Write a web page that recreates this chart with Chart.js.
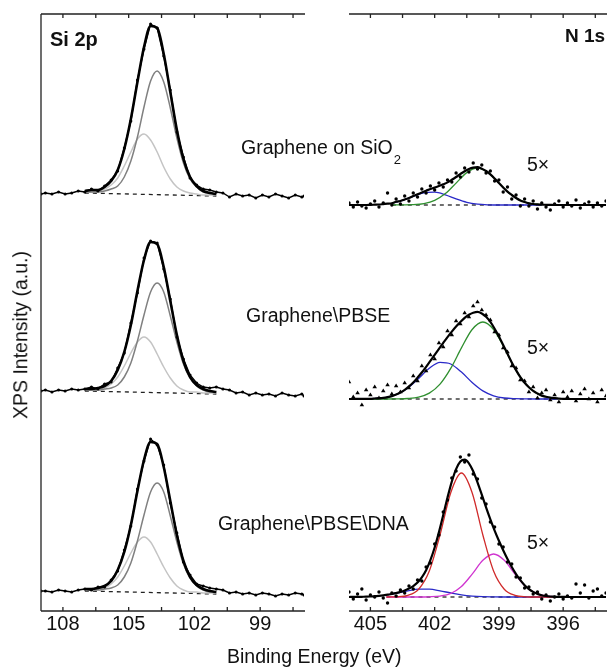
<!DOCTYPE html>
<html>
<head>
<meta charset="utf-8">
<script src="https://cdn.jsdelivr.net/npm/chart.js@4.4.1/dist/chart.umd.min.js"></script>
<style>
  body { margin: 0; background: #fff; }
  #wrap { position: relative; width: 610px; height: 668px; overflow: hidden; background: #fff;
          font-family: "Liberation Sans", Arial, sans-serif; color: #111; }
  #wrap canvas { position: absolute; top: 0; }
  .lbl { position: absolute; white-space: nowrap; line-height: 1; font-size: 19.5px; }
  .bold { font-weight: bold; }
</style>
</head>
<body>
<div id="wrap">
  <canvas id="siChart" width="320" height="668" style="left:0"></canvas>
  <canvas id="nChart" width="280" height="668" style="left:330px"></canvas>

  <div class="lbl bold" style="left:50px; top:29px; font-size:20px;">Si 2p</div>
  <div class="lbl bold" style="left:565px; top:25.5px; font-size:19px;">N 1s</div>
  <div class="lbl" style="left:241px; top:137.5px;">Graphene on SiO<span style="font-size:13px; position:relative; top:10px; margin-left:1px;">2</span></div>
  <div class="lbl" style="left:246px; top:305.5px;">Graphene\PBSE</div>
  <div class="lbl" style="left:218px; top:513.5px;">Graphene\PBSE\DNA</div>
  <div class="lbl" style="left:527px; top:154.5px;">5×</div>
  <div class="lbl" style="left:527px; top:337.5px;">5×</div>
  <div class="lbl" style="left:527px; top:532.5px;">5×</div>
  <div class="lbl" style="left:227px; top:646.5px;">Binding Energy (eV)</div>
  <div class="lbl" style="left:20.5px; top:335px; transform:translate(-50%,-50%) rotate(-90deg);">XPS Intensity (a.u.)</div>
</div>

<script>
// ---- Si 2p panel (binding energy, eV / intensity, a.u.) ----
const siTicks = [108, 106.5, 105, 103.5, 102, 100.5, 99, 97.5];
const siLabels = [108, 105, 102, 99];

const siDataE = [109, 108.8, 108.5, 108.2, 107.9, 107.6, 107.3, 107, 106.7, 106.4,
  106.1, 105.8, 105.5, 105.2, 104.9, 104.6, 104.3, 104, 103.7, 103.4,
  103.1, 102.8, 102.5, 102.2, 101.9, 101.6, 101.3, 101, 100.7, 100.4,
  100.1, 99.8, 99.5, 99.2, 98.9, 98.6, 98.3, 98, 97.7, 97.4, 97.1, 97];
const siTopData = [417, 418, 417, 419, 417, 418, 420, 419, 422, 420,
  425, 431, 440, 463, 490, 531, 562, 587, 583, 555,
  521, 479, 454, 433, 426, 422, 421, 419, 418, 414,
  417, 415, 416, 413, 416, 414, 417, 415, 413, 416, 414, 415];
const siMidData = [220, 221, 219, 221, 220, 222, 221, 222, 224, 222,
  227, 229, 243, 258, 288, 318, 353, 370, 368, 342,
  312, 274, 252, 236, 228, 224, 223, 224, 222, 221,
  218, 219, 216, 218, 216, 217, 215, 218, 216, 215, 217, 215];
const siBotData = [20, 20, 19, 21, 20, 19, 21, 22, 21, 24,
  24, 31, 40, 61, 85, 122, 150, 172, 166, 146,
  108, 78, 49, 36, 27, 25, 23, 22, 21, 18,
  19, 17, 18, 16, 18, 17, 15, 17, 16, 18, 17, 16];

const siFitE = [107, 106.7, 106.4, 106.1, 105.8, 105.5, 105.2, 104.9, 104.6, 104.3,
  104, 103.7, 103.4, 103.1, 102.8, 102.5, 102.2, 101.9, 101.6, 101.3, 101];
const siTopFit = [420, 421, 421, 424, 430, 441, 462, 492, 529, 564, 585, 583, 557, 519, 481, 452, 434, 425, 420, 418, 417];
const siTopComp1 = [419, 419, 419, 420, 422, 425, 434, 450, 474, 504, 530, 540, 529, 503, 473, 448, 432, 424, 419, 418, 417];
const siTopComp2 = [419, 419, 420, 422, 426, 433, 445, 459, 472, 477, 471, 459, 444, 432, 424, 420, 418, 417, 416, 416, 416];
const siMidFit = [222, 222, 223, 225, 230, 241, 259, 286, 320, 351, 369, 367, 344, 310, 276, 250, 234, 226, 222, 220, 219];
const siMidComp1 = [221, 221, 221, 222, 223, 226, 234, 248, 270, 296, 319, 328, 319, 295, 269, 247, 233, 225, 221, 219, 219];
const siMidComp2 = [221, 221, 222, 223, 227, 234, 245, 258, 269, 274, 269, 257, 244, 233, 225, 221, 219, 219, 218, 218, 218];
const siBotFit = [22, 22, 23, 25, 30, 41, 59, 86, 120, 151, 169, 167, 144, 110, 76, 50, 34, 26, 22, 20, 19];
const siBotComp1 = [21, 21, 21, 22, 23, 26, 34, 48, 70, 96, 119, 128, 119, 95, 69, 47, 33, 25, 21, 19, 19];
const siBotComp2 = [21, 21, 22, 23, 27, 34, 45, 58, 69, 74, 69, 57, 44, 33, 25, 21, 19, 19, 18, 18, 18];

const siBaseE = [107, 101];
const siTopBase = [418, 415];
const siMidBase = [220, 217];
const siBotBase = [20, 17];

// ---- N 1s panel ----
const nTicks = [405, 403.5, 402, 400.5, 399, 397.5, 396, 394.5];
const nLabels = [405, 402, 399, 396];

const nE = [406, 405.8, 405.6, 405.4, 405.2, 405, 404.8, 404.6, 404.4, 404.2,
  404, 403.8, 403.6, 403.4, 403.2, 403, 402.8, 402.6, 402.4, 402.2,
  402, 401.8, 401.6, 401.4, 401.2, 401, 400.8, 400.6, 400.4, 400.2,
  400, 399.8, 399.6, 399.4, 399.2, 399, 398.8, 398.6, 398.4, 398.2,
  398, 397.8, 397.6, 397.4, 397.2, 397, 396.8, 396.6, 396.4, 396.2,
  396, 395.8, 395.6, 395.4, 395.2, 395, 394.8, 394.6, 394.4, 394.2, 394];

const nTopData = [408, 404, 409, 405, 403, 407, 410, 404, 408, 418,
  406, 412, 407, 415, 410, 418, 414, 422, 418, 425,
  421, 428, 424, 431, 429, 438, 434, 443, 439, 448,
  442, 446, 438, 440, 430, 431, 419, 424, 412, 416,
  405, 412, 405, 410, 402, 408, 404, 401, 407, 410,
  404, 408, 405, 411, 403, 407, 409, 404, 408, 405, 410];
const nTopFit = [406, 406, 406, 406, 406, 406.1, 406.3, 406.5, 406.9, 407.3,
  407.8, 409.2, 410, 411.5, 413, 414.9, 416.8, 418.6, 420.3, 422,
  423.4, 425, 426.7, 428.6, 431.2, 434, 437, 439.8, 442, 443.4,
  443.9, 442.3, 440, 436.7, 432.5, 427.9, 423.5, 419.3, 416, 413,
  410.6, 409, 407.8, 407, 406.6, 406.3, 406.2, 406.1, 406, 406,
  406, 406, 406, 406, 406, 406, 406, 406, 406, 406, 406];

const nMidData = [229, 214, 218, 206, 221, 216, 224, 213, 220, 226,
  217, 225, 219, 228, 223, 235, 230, 245, 240, 256,
  252, 268, 264, 280, 276, 290, 287, 298, 294, 305,
  309, 301, 296, 291, 279, 276, 263, 259, 245, 243,
  231, 230, 219, 224, 213, 218, 221, 211, 216, 209,
  219, 214, 220, 210, 217, 222, 212, 218, 209, 221, 215];
const nMidFit = [212, 212, 212.1, 212.1, 212.2, 212.2, 212.5, 212.8, 213.2, 213.9,
  214.9, 216.5, 218.5, 221.2, 224.6, 228.5, 233.4, 238.5, 244.2, 250.2,
  256.2, 262.2, 268.1, 273.9, 279.4, 284.5, 289, 293.1, 296.2, 298.2,
  299.1, 297.5, 294.2, 289.1, 282.3, 274.6, 266.1, 257.2, 248.6, 240.9,
  233.8, 228.3, 223.8, 220.1, 217.5, 215.4, 214.2, 213.3, 212.8, 212.4,
  212.2, 212, 212, 212, 212, 212, 212, 212, 212, 212, 212];

const nBotData = [19, 12, 17, 22, 11, 16, 14, 19, 13, 8,
  18, 15, 21, 18, 25, 22, 31, 30, 44, 48,
  67, 76, 99, 111, 133, 140, 154, 149, 156, 137,
  132, 113, 107, 89, 84, 67, 64, 49, 47, 34,
  33, 23, 24, 17, 19, 12, 16, 10, 14, 17,
  12, 15, 13, 27, 18, 26, 13, 20, 22, 15, 18];
const nBotFit = [14, 14.1, 14.1, 14.2, 14.3, 14.5, 14.8, 15.1, 15.6, 16.3,
  17, 18, 19.1, 20.5, 22.4, 24.9, 28.4, 33.6, 40.8, 50.8,
  63.5, 78.9, 96, 113.5, 129.4, 141.9, 149.5, 151.4, 147.7, 139.7,
  128.7, 116.3, 103.6, 91.6, 80.4, 70.2, 60.8, 52, 44, 36.9,
  30.8, 25.8, 21.9, 19.1, 17.1, 15.8, 15, 14.5, 14.3, 14.1,
  14.1, 14, 14, 14, 14, 14, 14, 14, 14, 14, 14];

const nTopCompE = [404, 403.5, 403, 402.5, 402, 401.5, 401, 400.5, 400, 399.5, 399, 398.5, 398, 397.5, 397];
const nTopGreen = [406, 406.1, 406.3, 407.4, 410.6, 417.4, 427.9, 438.4, 443, 438.4, 427.9, 417.4, 410.6, 407.4, 406.3];
const nTopBlue = [407.8, 410.6, 414.6, 418.1, 418.8, 416.2, 412.1, 408.7, 406.9, 406.2, 406, 406, 406, 406, 406];

const nMidCompE = [405.25, 404.75, 404.25, 403.75, 403.25, 402.75, 402.25, 401.75, 401.25, 400.75,
  400.25, 399.75, 399.25, 398.75, 398.25, 397.75, 397.25, 396.75, 396.25];
const nMidGreen = [212, 212, 212, 212.1, 212.5, 213.9, 217.9, 226.9, 242.6, 263.1,
  281.5, 289, 281.5, 263.1, 242.6, 226.9, 217.9, 213.9, 212.5];
const nMidBlue = [212.1, 212.5, 213.6, 216.8, 223.1, 232.6, 242.7, 248.6, 247, 238.9,
  228.5, 220.1, 215.2, 213, 212.3, 212.1, 212, 212, 212];

const nBotCompE = [404.25, 403.75, 403.25, 402.75, 402.25, 401.75, 401.25, 400.75, 400.25, 399.75, 399.25, 398.75, 398.25, 397.75, 397.25, 396.75, 396.25];
const nBotRed = [14, 14.2, 15.6, 21.8, 40, 76, 118.3, 138, 118.3, 76, 40, 21.8, 15.6, 14.2, 14, 14, 14];
const nBotMagenta = [14, 14, 14, 14, 14.2, 14.9, 17.5, 24.5, 36.9, 50.7, 57, 50.7, 36.9, 24.5, 17.5, 14.9, 14.2];
const nBotBlue = [16.1, 18, 20.2, 21.8, 21.8, 20.2, 18, 16.1, 14.9, 14.3, 14.1, 14, 14, 14, 14, 14, 14];

const nTopBaseE = [404, 397];
const nTopBase = [406, 406];
const nMidBaseE = [405.5, 395.8];
const nMidBase = [212, 212];
const nBotBaseE = [404.25, 396.25];
const nBotBase = [14, 14];

const FONT = "'Liberation Sans', Arial, sans-serif";

function xy(xs, ys) {
  return xs.map((x, i) => ({ x, y: ys[i] }));
}

function curve(xs, ys, color, width) {
  return {
    data: xy(xs, ys), borderColor: color, borderWidth: width,
    pointRadius: 0, fill: false, cubicInterpolationMode: 'monotone'
  };
}

function dashed(xs, ys) {
  return {
    data: xy(xs, ys), borderColor: '#222', borderWidth: 1.3,
    borderDash: [4, 4], pointRadius: 0, fill: false, tension: 0
  };
}

function points(xs, ys, style, radius, joined) {
  return {
    data: xy(xs, ys), showLine: joined, borderColor: '#000', borderWidth: 1.4,
    pointStyle: style, pointRadius: radius, pointBackgroundColor: '#000',
    pointBorderWidth: 0, fill: false, tension: 0
  };
}

// axis box and inward ticks
function framePlugin(tickVals, drawLeft) {
  return {
    id: 'frame',
    afterDatasetsDraw(chart) {
      const { ctx, chartArea: a, scales: { x } } = chart;
      ctx.save();
      ctx.strokeStyle = '#222';
      ctx.lineWidth = 1.3;
      ctx.beginPath();
      ctx.moveTo(a.left, a.top); ctx.lineTo(a.right + 1, a.top);
      ctx.moveTo(a.left, a.bottom); ctx.lineTo(a.right + 1, a.bottom);
      if (drawLeft) { ctx.moveTo(a.left, a.top); ctx.lineTo(a.left, a.bottom); }
      tickVals.forEach(v => {
        const px = x.getPixelForValue(v);
        ctx.moveTo(px, a.top); ctx.lineTo(px, a.top + 4);
        ctx.moveTo(px, a.bottom); ctx.lineTo(px, a.bottom - 4);
      });
      ctx.stroke();
      ctx.restore();
    }
  };
}

function makeOptions(min, max, labels, pad) {
  return {
    responsive: false,
    animation: false,
    events: [],
    layout: { padding: pad },
    plugins: { legend: { display: false }, tooltip: { enabled: false } },
    scales: {
      x: {
        type: 'linear', reverse: true, min, max,
        afterBuildTicks: s => { s.ticks = labels.map(v => ({ value: v })); },
        afterFit: s => { s.height = 57; },
        grid: { display: false, drawTicks: false },
        border: { display: false },
        ticks: { color: '#111', font: { family: FONT, size: 20 }, padding: 1, maxRotation: 0, autoSkip: false }
      },
      y: { display: false, min: 0, max: 597 }
    }
  };
}

new Chart(document.getElementById('siChart'), {
  type: 'line',
  data: {
    datasets: [
      curve(siFitE, siTopFit, '#000', 2.6),
      curve(siFitE, siMidFit, '#000', 2.6),
      curve(siFitE, siBotFit, '#000', 2.6),
      points(siDataE, siTopData, 'circle', 1.5, true),
      points(siDataE, siMidData, 'circle', 1.5, true),
      points(siDataE, siBotData, 'circle', 1.5, true),
      curve(siFitE, siTopComp1, '#808080', 1.5),
      curve(siFitE, siMidComp1, '#808080', 1.5),
      curve(siFitE, siBotComp1, '#808080', 1.5),
      curve(siFitE, siTopComp2, '#c4c4c4', 1.5),
      curve(siFitE, siMidComp2, '#c4c4c4', 1.5),
      curve(siFitE, siBotComp2, '#c4c4c4', 1.5),
      dashed(siBaseE, siTopBase),
      dashed(siBaseE, siMidBase),
      dashed(siBaseE, siBotBase)
    ]
  },
  options: makeOptions(97, 109, siLabels, { left: 41, top: 14, right: 16, bottom: 0 }),
  plugins: [framePlugin(siTicks, true)]
});

new Chart(document.getElementById('nChart'), {
  type: 'line',
  data: {
    datasets: [
      curve(nE, nTopFit, '#000', 2.2),
      curve(nE, nMidFit, '#000', 2.2),
      curve(nE, nBotFit, '#000', 2.2),
      points(nE, nTopData, 'circle', 1.7, false),
      points(nE, nMidData, 'triangle', 2.6, false),
      points(nE, nBotData, 'circle', 1.7, false),
      curve(nTopCompE, nTopGreen, '#2f8f2f', 1.3),
      curve(nTopCompE, nTopBlue, '#2a2ac8', 1.3),
      curve(nMidCompE, nMidGreen, '#2f8f2f', 1.3),
      curve(nMidCompE, nMidBlue, '#2a2ac8', 1.3),
      curve(nBotCompE, nBotRed, '#d02a2a', 1.3),
      curve(nBotCompE, nBotMagenta, '#d035d0', 1.3),
      curve(nBotCompE, nBotBlue, '#2a2ac8', 1.3),
      dashed(nTopBaseE, nTopBase),
      dashed(nMidBaseE, nMidBase),
      dashed(nBotBaseE, nBotBase)
    ]
  },
  options: makeOptions(394, 406, nLabels, { left: 19, top: 14, right: 0, bottom: 0 }),
  plugins: [framePlugin(nTicks, false)]
});
</script>
</body>
</html>
